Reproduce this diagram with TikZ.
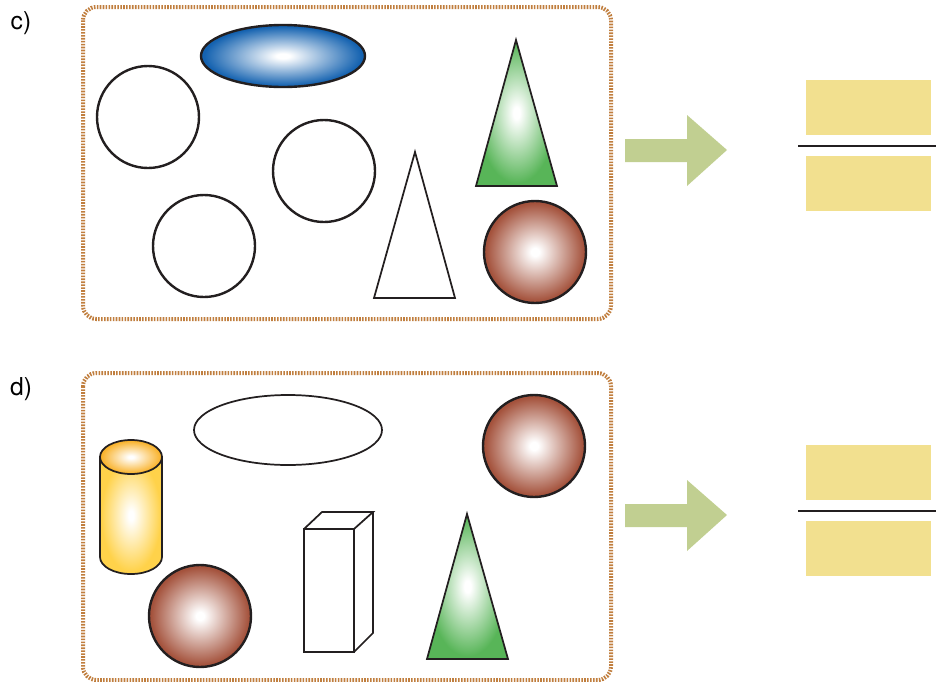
\documentclass[tikz,border=0pt]{standalone}
\usepackage{fontspec}
\setmainfont{TeX Gyre Heros}
\definecolor{Ink}{HTML}{231F20}
\definecolor{Frame}{HTML}{C07E3E}
\definecolor{Pointer}{HTML}{C1CF91}
\definecolor{Sand}{HTML}{F2E08F}
\definecolor{Clay}{HTML}{A4523C}
\definecolor{Sea}{HTML}{1462B0}
\definecolor{Leaf}{HTML}{58B558}
\definecolor{Gold}{HTML}{FFD24A}
\definecolor{Amber}{HTML}{F9B22A}
% white spot fading quickly into a colour
\newcommand\glowshading[2]{%
  \pgfdeclareradialshading{#1}{\pgfpoint{0bp}{0bp}}{%
    color(0bp)=(white); color(2bp)=(white); color(24bp)=(#2); color(50bp)=(#2)}}
\glowshading{glowclay}{Clay}
\glowshading{glowsea}{Sea}
\glowshading{glowleaf}{Leaf}
\glowshading{glowgold}{Gold}
\glowshading{glowamber}{Amber}
\tikzset{
  outline/.style={draw=Ink,line width=1.8pt},
  thinline/.style={draw=Ink,line width=1.3pt},
  frame/.style={draw=Frame,line width=3pt,dash pattern=on 1.2pt off 1pt,rounded corners=10pt},
  ball/.style={outline,shading=glowclay},
  tag/.style={font=\fontsize{18.5}{20}\selectfont,inner sep=0pt}
}

\begin{document}
\begin{tikzpicture}[x=0.75pt,y=-0.75pt]
  \useasboundingbox (0,0) rectangle (936,682);
  % frames and labels
  \draw[frame] (83,7) rectangle (611,319);
  \draw[frame] (83,373) rectangle (611,680);
  \node[tag] (tagc) at (21,23) {c)};
  \node[tag] (tagd) at (21,389) {d)};
  % arrow and fraction boxes, same for both rows
  \foreach \dy in {0,365}{
    \begin{scope}[yshift=-0.75*\dy pt]
      \fill[Pointer] (625,139) -- (687,139) -- (687,115) -- (727,150) -- (687,186) -- (687,162) -- (625,162) -- cycle;
      \fill[Sand] (806,80) rectangle (931,135);
      \fill[Sand] (806,156) rectangle (931,211);
      \draw[Ink,line width=2pt] (798,146) -- (936,146);
    \end{scope}
  }
  % row c
  \draw[outline] (148,117) circle[radius=51];
  \shadedraw[outline,shading=glowsea] (283,56) ellipse[x radius=82,y radius=31];
  \draw[outline] (324,171) circle[radius=51];
  \draw[outline] (204,246) circle[radius=51];
  \draw[thinline] (415,152) -- (455,298) -- (374,298) -- cycle;
  \shadedraw[thinline,shading=glowleaf] (516,40) -- (557,186) -- (476,186) -- cycle;
  \shadedraw[ball] (535,252) circle[radius=51];
  % row d
  \draw[thinline] (288,430) ellipse[x radius=94,y radius=35];
  \shadedraw[ball] (534,446) circle[radius=51];
  \shadedraw[thinline,shading=glowgold] (100,457) -- (100,557) arc[start angle=180,end angle=0,x radius=31,y radius=17] -- (162,457) -- cycle;
  \shadedraw[thinline,shading=glowamber] (131,457) ellipse[x radius=31,y radius=17];
  \shadedraw[ball] (200,616) circle[radius=51];
  \draw[outline] (304,529) rectangle (354,652);
  \draw[thinline] (304,529) -- (322,512) -- (373,512) -- (354,529);
  \draw[thinline] (373,512) -- (373,633) -- (354,652);
  \shadedraw[thinline,shading=glowleaf] (467,514) -- (508,659) -- (427,659) -- cycle;
\end{tikzpicture}
\end{document}
